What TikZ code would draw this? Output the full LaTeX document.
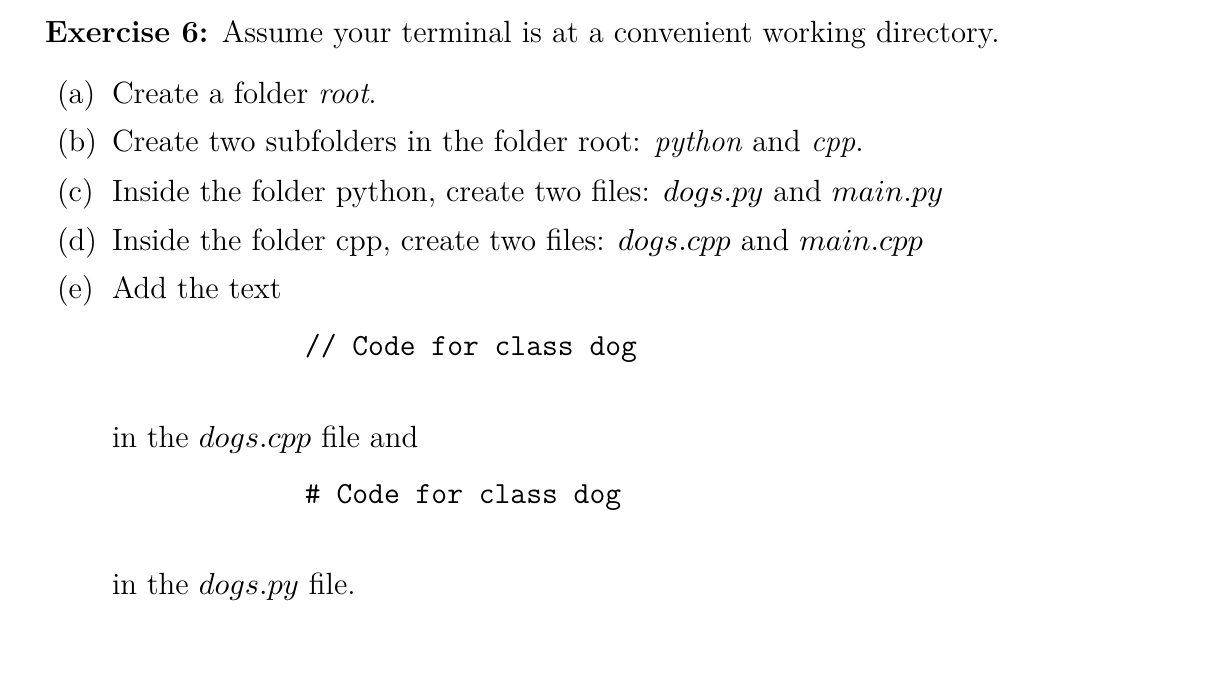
\documentclass[tikz,border=0pt]{standalone}
\begin{document}
\begin{tikzpicture}[x=0.36pt,y=-0.36pt,
  txt/.style={anchor=base west,inner sep=0pt,outer sep=0pt,font=\fontsize{11.05pt}{13pt}\selectfont}]
\useasboundingbox (0,0) rectangle (1223,692);
\node[txt] (t0) at (45,42) {\textbf{Exercise 6:} Assume your terminal is at a convenient working directory.};
\node[txt] (la) at (57,103) {(a)};
\node[txt] (a) at (112,103) {Create a folder \emph{root}.};
\node[txt] (lb) at (57,152) {(b)};
\node[txt] (b) at (112,152) {Create two subfolders in the folder root: \emph{python} and \emph{cpp}.};
\node[txt] (lc) at (57,201) {(c)};
\node[txt] (c) at (112,201) {Inside the folder python, create two files: $dogs.py$ and $main.py$};
\node[txt] (ld) at (57,250) {(d)};
\node[txt] (d) at (112,250) {Inside the folder cpp, create two files: $dogs.cpp$ and $main.cpp$};
\node[txt] (le) at (57,299) {(e)};
\node[txt] (e) at (112,299) {Add the text};
\node[txt] (c1) at (305,355) {\texttt{// Code for class dog}};
\node[txt] (e2) at (112,447) {in the $dogs.cpp$ file and};
\node[txt] (c2) at (305,503) {\texttt{\# Code for class dog}};
\node[txt] (e3) at (112,594) {in the $dogs.py$ file.};
\end{tikzpicture}
\end{document}
